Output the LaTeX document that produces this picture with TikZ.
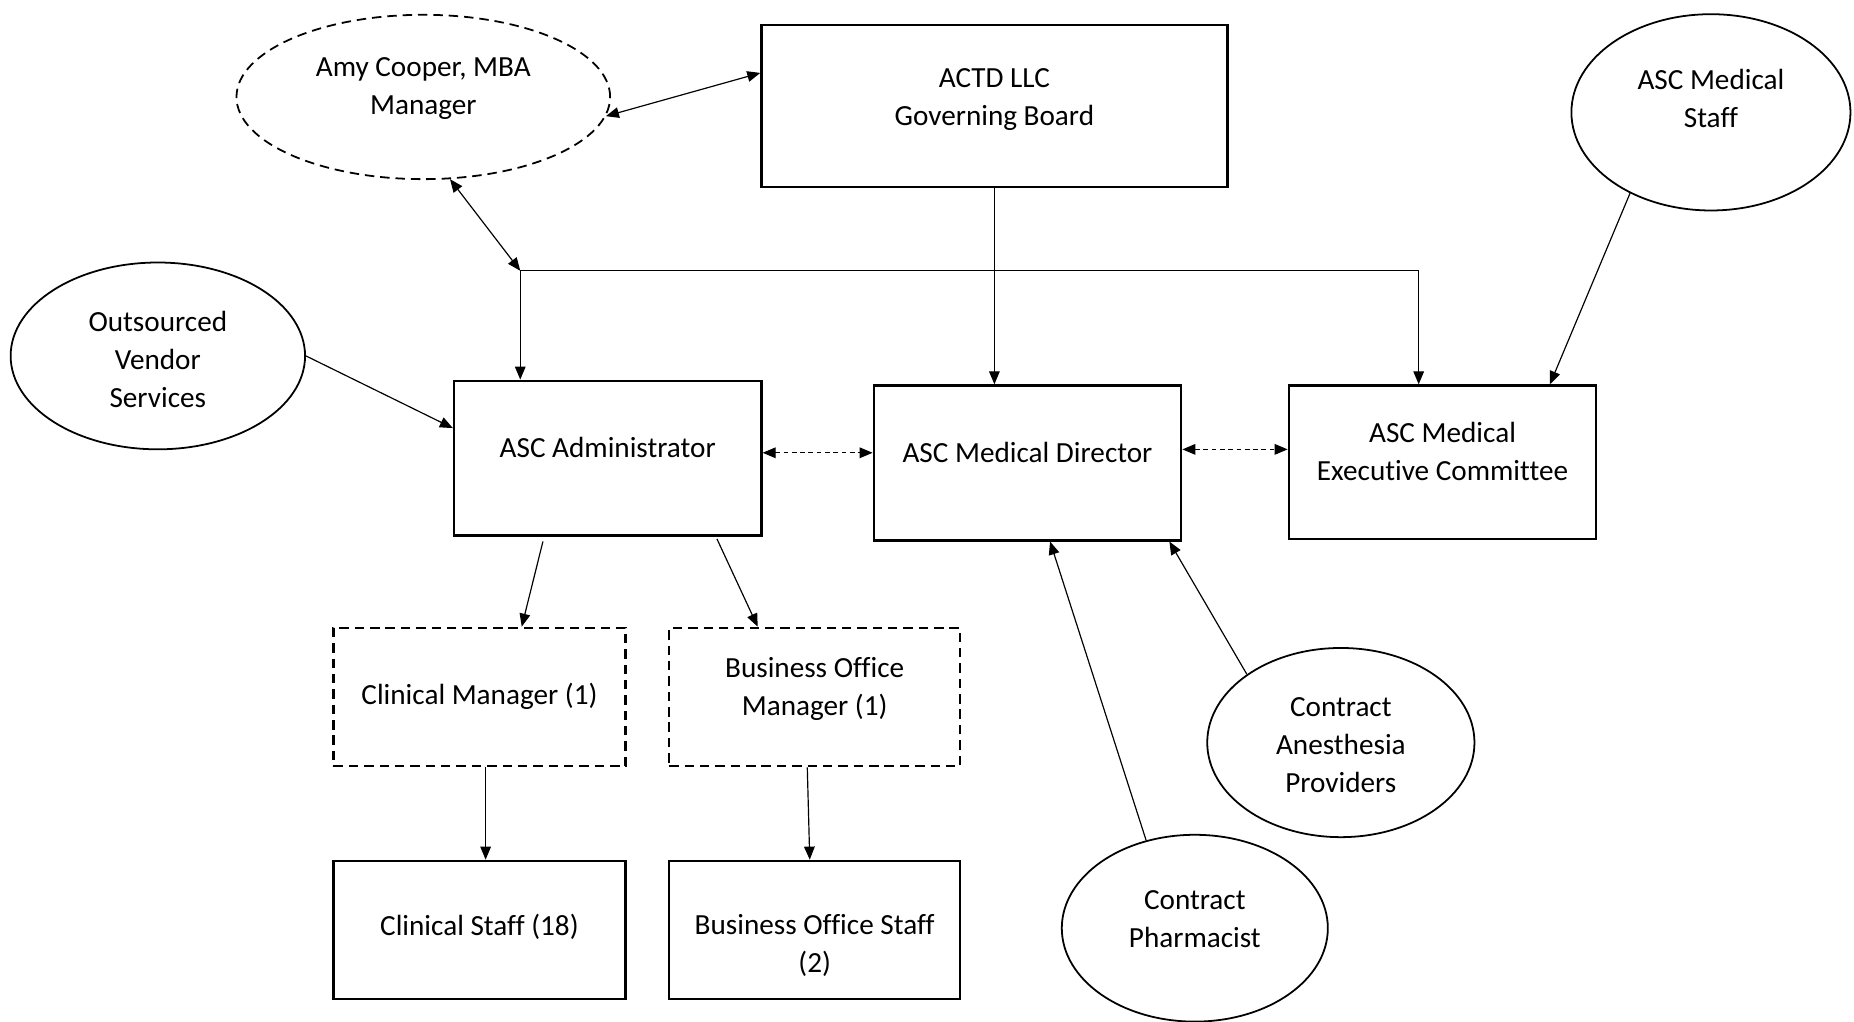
\documentclass[tikz,border=0pt]{standalone}
\usepackage{fontspec}
\setmainfont{Carlito}[Ligatures=NoCommon]
\usetikzlibrary{arrows.meta,shapes.geometric}

\tikzset{
  wtip/.tip={Triangle[length=5.5pt,width=4.5pt]},
  box/.style={draw, line width=1pt, inner sep=0pt},
  dashbox/.style={box, dash pattern=on 4pt off 2.5pt},
  oval/.style={draw, ellipse, line width=0.75pt, inner sep=0pt},
  link/.style={-wtip, line width=0.5pt},
  twoway/.style={wtip-wtip, line width=0.5pt},
  every label/.style={align=center},
}

\begin{document}
\begin{tikzpicture}[x=0.5pt, y=-0.5pt, font=\fontsize{12.35pt}{16pt}\selectfont]
  \useasboundingbox (0,0) rectangle (1568,864);

  % boxes
  \node[box, minimum width=197pt, minimum height=68.5pt, label={[yshift=2.5pt]center:ACTD LLC\\Governing Board}] (actd) at (841,89.5) {};
  \node[box, minimum width=130pt, minimum height=65.5pt, label={[yshift=4.5pt]center:ASC Administrator}] (admin) at (514,387.5) {};
  \node[box, minimum width=130pt, minimum height=65.5pt, label={[yshift=4.5pt]center:ASC Medical Director}] (director) at (869,391.5) {};
  \node[box, minimum width=130pt, minimum height=65pt, label={[yshift=4.5pt]center:ASC Medical\\Executive Committee}] (cmte) at (1220,391) {};
  \node[dashbox, minimum width=123.5pt, minimum height=58.5pt, label={[yshift=0.25pt]center:Clinical Manager (1)}] (clinmgr) at (405.5,589.5) {};
  \node[dashbox, minimum width=123pt, minimum height=58.5pt, label={[yshift=3.5pt]center:Business Office\\Manager (1)}] (bizmgr) at (689,589.5) {};
  \node[box, minimum width=123.5pt, minimum height=58.5pt, label={[yshift=1.25pt]center:Clinical Staff (18)}] (clinstaff) at (405.5,786.5) {};
  \node[box, minimum width=123pt, minimum height=58.5pt, label={[yshift=-6.5pt]center:Business Office Staff\\(2)}] (bizstaff) at (689,786.5) {};

  % ovals
  \node[oval, dash pattern=on 4pt off 2.5pt, minimum width=158pt, minimum height=69.5pt, label={[yshift=3.5pt]center:{Amy Cooper, MBA\\Manager}}] (amy) at (358,82) {};
  \node[oval, minimum width=118pt, minimum height=83pt, label={[yshift=6pt]center:ASC Medical\\Staff}] (medstaff) at (1447,95) {};
  \node[oval, minimum width=124.5pt, minimum height=79pt, label={[yshift=-1.5pt]center:Outsourced\\Vendor\\Services}] (vendor) at (133.5,301) {};
  \node[oval, minimum width=113pt, minimum height=80pt, label={[yshift=-1pt]center:Contract\\Anesthesia\\Providers}] (anes) at (1134,628) {};
  \node[oval, minimum width=112.5pt, minimum height=79pt, label={[yshift=3.75pt]center:Contract\\Pharmacist}] (pharm) at (1010.5,785) {};

  % connectors
  \coordinate (hub) at (440,229);
  \draw[twoway] (amy.-6) -- (actd.172);
  \draw[twoway] (amy.-72) -- (hub);
  \draw[link] (hub) -- (hub |- admin.north);
  \draw[link] (hub) -| (cmte.107);
  \draw[link] (actd.south) -- (actd.south |- director.north);
  \draw[link] (vendor.east) -- (admin.169);
  \draw[twoway, dash pattern=on 2pt off 1.5pt] (admin.2) -- (admin.2 -| director.west);
  \draw[twoway, dash pattern=on 2pt off 1.5pt] (director.5) -- (director.5 -| cmte.west);
  \draw[link, shorten <=2pt] (admin.-129) -- (clinmgr.59);
  \draw[link, shorten <=1pt] (admin.-36) -- (bizmgr.129);
  \draw[link] (clinmgr.-85) -- (clinmgr.-85 |- clinstaff.north);
  \draw[link] (bizmgr.-96) -- (bizstaff.94);
  \draw[link] (medstaff.-135) -- (cmte.36);
  \draw[link] (anes.144) -- (director.-29);
  \draw[link] (pharm.119) -- (director.-74);
\end{tikzpicture}
\end{document}
